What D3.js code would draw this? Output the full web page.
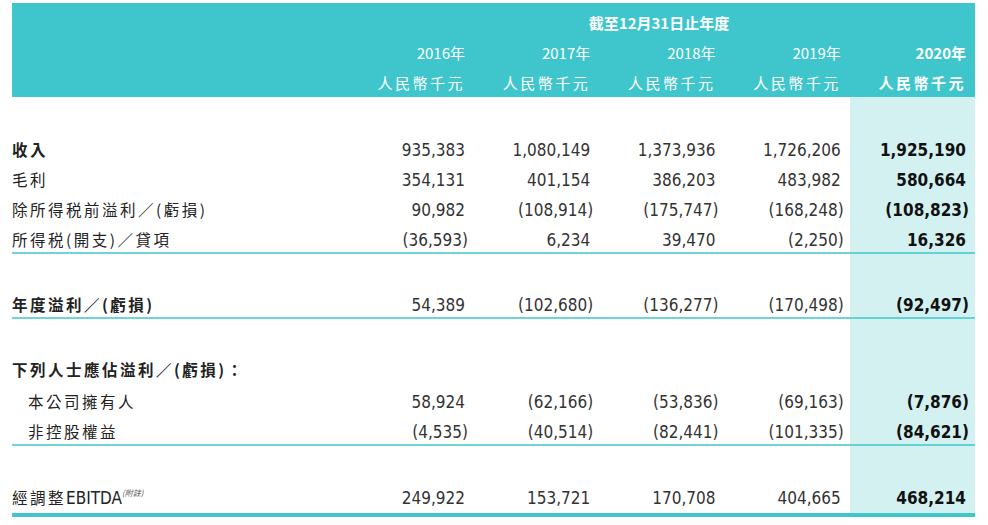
<!DOCTYPE html>
<html><head><meta charset="utf-8">
<script src="https://cdn.jsdelivr.net/npm/d3@7/dist/d3.min.js"></script>
<style>body{margin:0;background:#fff}</style></head>
<body><svg id="c" width="988" height="525"></svg>
<script>
const years = ["2016年","2017年","2018年","2019年","2020年"];
const unit = "人民幣千元";
const headerTitle = "截至12月31日止年度";
const rowLabels = ["收入","毛利","除所得税前溢利／(虧損)","所得税(開支)／貸項","年度溢利／(虧損)","下列人士應佔溢利／(虧損)：","本公司擁有人","非控股權益","經調整EBITDA"];
const rowBold = [true,false,false,false,true,true,false,false,false];
const rowIndent = [false,false,false,false,false,false,true,true,false];
const v2016 = [935383,354131,90982,-36593,54389,null,58924,-4535,249922];
const v2017 = [1080149,401154,-108914,6234,-102680,null,-62166,-40514,153721];
const v2018 = [1373936,386203,-175747,39470,-136277,null,-53836,-82441,170708];
const v2019 = [1726206,483982,-168248,-2250,-170498,null,-69163,-101335,404665];
const v2020 = [1925190,580664,-108823,16326,-92497,null,-7876,-84621,468214];
const series = [v2016,v2017,v2018,v2019,v2020];

const svg = d3.select("#c");
const teal = "#3fc6cc";
const x = d3.scalePoint().domain(years).range([465,966]);
const rowY = d3.scaleOrdinal().domain(rowLabels).range([150,180,210,240,305,370,402,432,498]);
const font = "'Liberation Sans Narrow','DejaVu Sans Condensed','Liberation Sans',sans-serif";
const cjk = "'Noto Sans CJK TC','Noto Sans CJK SC',sans-serif";

svg.append("rect").attr("x",12).attr("y",3).attr("width",963).attr("height",94).attr("fill",teal);
svg.append("rect").attr("x",850).attr("y",97).attr("width",125).attr("height",418).attr("fill","#d3f1f1");

svg.append("text").attr("x",659).attr("y",29).attr("text-anchor","middle").attr("fill","#fff")
  .attr("font-family",cjk).attr("font-size",15).attr("font-weight","bold").text(headerTitle);
years.forEach((yr,i)=>{
  svg.append("text").attr("x",x(yr)).attr("y",59).attr("text-anchor","end").attr("fill","#fff")
    .attr("font-family",cjk).attr("font-size",15).attr("font-weight",i==4?"bold":"normal").text(yr);
  svg.append("text").attr("x",x(yr)).attr("y",89).attr("text-anchor","end").attr("fill","#fff")
    .attr("font-family",cjk).attr("font-size",15).attr("letter-spacing",2.5).attr("font-weight",i==4?"bold":"normal").text(unit);
});

const fmt = d3.format(",");
rowLabels.forEach((lab,r)=>{
  const t = svg.append("text").attr("x",rowIndent[r]?28:12).attr("y",rowY(lab)+6)
    .attr("fill","#222").attr("font-family",cjk).attr("font-size",15.5).attr("letter-spacing",2.5)
    .attr("font-weight",rowBold[r]?"bold":"normal").text(lab);
  if(r==8){ t.attr("letter-spacing",0).text(""); t.append("tspan").attr("letter-spacing",2.5).text("經調整");
    t.append("tspan").attr("font-family",font).attr("font-size",17).text("EBITDA");
    t.append("tspan").attr("font-size",8).attr("dy",-8).attr("font-style","italic").attr("fill","#555").text("(附註)"); }
  series.forEach((s,c)=>{
    const v = s[r]; if(v==null) return;
    const str = v<0?"("+fmt(-v)+")":fmt(v);
    svg.append("text").attr("x",x(years[c])+(v<0?3:0)).attr("y",rowY(lab)+6).attr("text-anchor","end")
      .attr("fill",c==4?"#111":"#333").attr("font-family",font).attr("font-size",17)
      .attr("font-weight",c==4?"bold":"normal").text(str);
  });
});
[253,318,445].forEach(y=>svg.append("line").attr("x1",12).attr("x2",975).attr("y1",y).attr("y2",y).attr("stroke",teal).attr("stroke-width",1.5));
svg.append("rect").attr("x",12).attr("y",513).attr("width",963).attr("height",4).attr("fill",teal);
</script></body></html>
